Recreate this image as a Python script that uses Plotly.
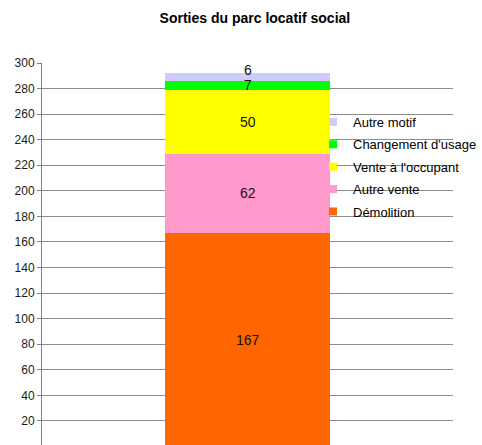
import plotly.graph_objects as go

category = ["Sorties"]
series_names = ["Démolition", "Autre vente", "Vente à l'occupant", "Changement d'usage", "Autre motif"]
demolition = [167]
autre_vente = [62]
vente_occupant = [50]
changement_usage = [7]
autre_motif = [6]
colors = ["#FF6600", "#FF99CC", "#FFFF00", "#00FF00", "#CCCCFF"]
tick_values = list(range(0, 301, 20))

values = [demolition, autre_vente, vente_occupant, changement_usage, autre_motif]

FONT = "Liberation Sans, Arial, sans-serif"

fig = go.Figure()
n = len(series_names)
for i, (name, vals, col) in enumerate(zip(series_names, values, colors)):
    fig.add_trace(go.Bar(
        x=category, y=vals, name=name, width=0.4,
        marker=dict(color=col, line=dict(width=0)),
        legendgroup=name, showlegend=False, hoverinfo="name+y",
    ))
# legend entries with small square swatches
for i, (name, col) in enumerate(zip(series_names, colors)):
    fig.add_trace(go.Scatter(
        x=[None], y=[None], mode="markers", name=name,
        marker=dict(symbol="square", size=8, color=col),
        legendgroup=name, legendrank=n - i, showlegend=True,
    ))

# value labels, centred on each stacked segment (drawn above all bars)
annotations = []
base = 0
for i, vals in enumerate(values):
    v = vals[0]
    annotations.append(dict(
        x=category[0], y=base + v / 2, xref="x", yref="y", text=str(v),
        showarrow=False, yshift=7 if i == n - 1 else 0, height=12,
        font=dict(size=14, color="#111111", family=FONT),
    ))
    base += v

fig.update_layout(
    width=482, height=445,
    barmode="stack",
    plot_bgcolor="white", paper_bgcolor="white",
    margin=dict(l=42, r=29, t=63, b=0),
    title=dict(text="<b>Sorties du parc locatif social</b>", x=0.518, xref="paper",
               y=1 - 18 / 445, yref="container", yanchor="middle", xanchor="center",
               font=dict(size=14, color="#000000", family=FONT)),
    font=dict(family=FONT),
    legend=dict(x=0.66, y=0.885, xanchor="left", yanchor="top",
                traceorder="grouped", tracegroupgap=2.5,
                bgcolor="rgba(0,0,0,0)", font=dict(size=13, color="#000000", family=FONT)),
    xaxis=dict(showticklabels=False, showgrid=False, zeroline=False, showline=False,
               range=[-0.5, 0.5]),
    yaxis=dict(range=[1.2, 300], tickvals=tick_values, showgrid=True, gridcolor="#8c8c8c",
               gridwidth=1, zeroline=False, showline=True, linecolor="#808080", linewidth=1,
               ticks="outside", ticklen=4, tickcolor="#808080",
               tickfont=dict(size=12, color="#1a1a1a", family=FONT)),
    shapes=[dict(type="rect", xref="x domain", yref="y domain",
                 x0=(337 - 42) / 411, x1=1.01, y0=(445 - 226) / 382, y1=(445 - 106) / 382,
                 fillcolor="white", line=dict(width=0), layer="below")],
    annotations=annotations,
    showlegend=True,
)

fig.write_html("out.html", config={"displayModeBar": False},
               post_script="document.body.style.margin='0';document.body.style.overflow='hidden';")
